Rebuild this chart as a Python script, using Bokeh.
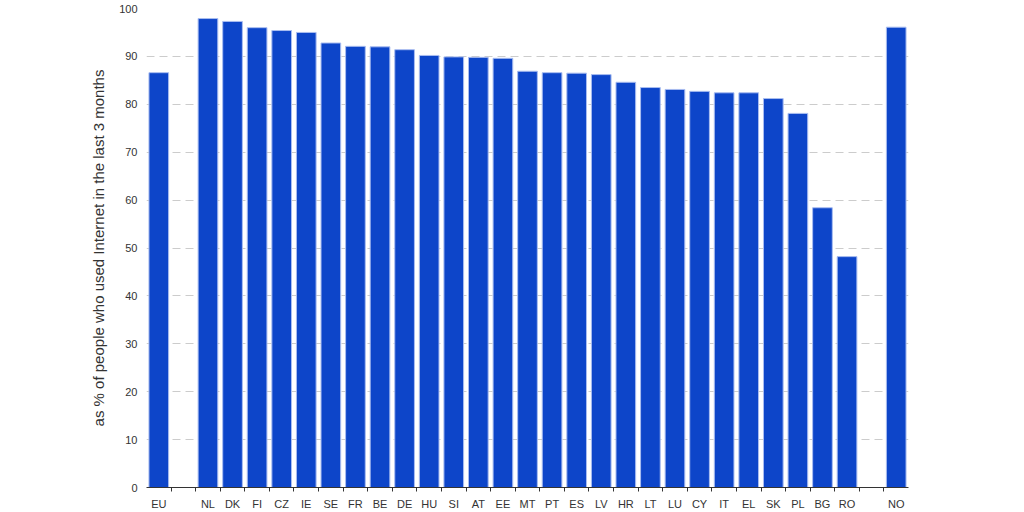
from bokeh.plotting import figure
from bokeh.models import ColumnDataSource, FixedTicker, Range1d
from bokeh.embed import file_html
from bokeh.resources import INLINE

# Slots along the axis ("" = empty gap slot)
categories = ["EU", "", "NL", "DK", "FI", "CZ", "IE", "SE", "FR", "BE", "DE", "HU",
              "SI", "AT", "EE", "MT", "PT", "ES", "LV", "HR", "LT", "LU", "CY", "IT",
              "EL", "SK", "PL", "BG", "RO", "", "NO"]
values = [86.6, None, 97.9, 97.3, 96.0, 95.4, 95.0, 92.8, 92.1, 92.0, 91.4, 90.2,
          89.9, 89.8, 89.6, 86.9, 86.6, 86.5, 86.2, 84.6, 83.5, 83.1, 82.7, 82.4,
          82.4, 81.2, 78.1, 58.4, 48.2, None, 96.1]
y_ticks = [0, 10, 20, 30, 40, 50, 60, 70, 80, 90, 100]
y_title = "as % of people who used Internet in the last 3 months"

xs = [i for i, v in enumerate(values) if v is not None]
tops = [v for v in values if v is not None]
src = ColumnDataSource(dict(x=xs, top=tops))

n = len(categories)
p = figure(width=1008, height=512, output_backend="svg", toolbar_location=None,
           x_range=Range1d(-0.5, n - 0.5), y_range=Range1d(0, 100),
           min_border_left=146, min_border_right=100,
           min_border_top=8, min_border_bottom=22)
p.outline_line_color = None
p.background_fill_color = "white"
p.border_fill_color = "white"

p.vbar(x="x", top="top", width=0.8, source=src,
       fill_color="#0d45c9", line_color="#a9bdf0", line_width=1)

font = "Liberation Sans"

# X axis: labels at centres, tick marks at slot boundaries
p.xaxis.ticker = FixedTicker(ticks=list(range(n)),
                             minor_ticks=[i + 0.5 for i in range(n - 1)])
p.xaxis.major_label_overrides = {i: c for i, c in enumerate(categories)}
p.xaxis.major_tick_line_color = None
p.xaxis.major_tick_out = 0
p.xaxis.major_tick_in = 0
p.xaxis.minor_tick_line_color = "#333333"
p.xaxis.minor_tick_out = 4
p.xaxis.minor_tick_in = 0
p.xaxis.axis_line_color = "#333333"
p.xaxis.axis_line_width = 1
p.xaxis.major_label_text_font = font
p.xaxis.major_label_text_font_size = "11px"
p.xaxis.major_label_text_color = "#333333"
p.xaxis.major_label_standoff = 6
p.xgrid.grid_line_color = None

# Y axis
p.yaxis.ticker = FixedTicker(ticks=y_ticks)
p.yaxis.axis_line_color = None
p.yaxis.major_tick_line_color = None
p.yaxis.major_tick_out = 0
p.yaxis.minor_tick_line_color = None
p.yaxis.major_label_text_font = font
p.yaxis.major_label_text_font_size = "11px"
p.yaxis.major_label_text_color = "#333333"
p.yaxis.major_label_standoff = 9
p.yaxis.axis_label = y_title
p.yaxis.axis_label_text_font = font
p.yaxis.axis_label_text_font_size = "15px"
p.yaxis.axis_label_text_font_style = "normal"
p.yaxis.axis_label_text_color = "#333333"
p.yaxis.axis_label_standoff = 9
p.ygrid.grid_line_color = "#cccccc"
p.ygrid.grid_line_dash = "8 5"
p.ygrid.grid_line_width = 1

open("out.html", "w").write(file_html(p, INLINE))
